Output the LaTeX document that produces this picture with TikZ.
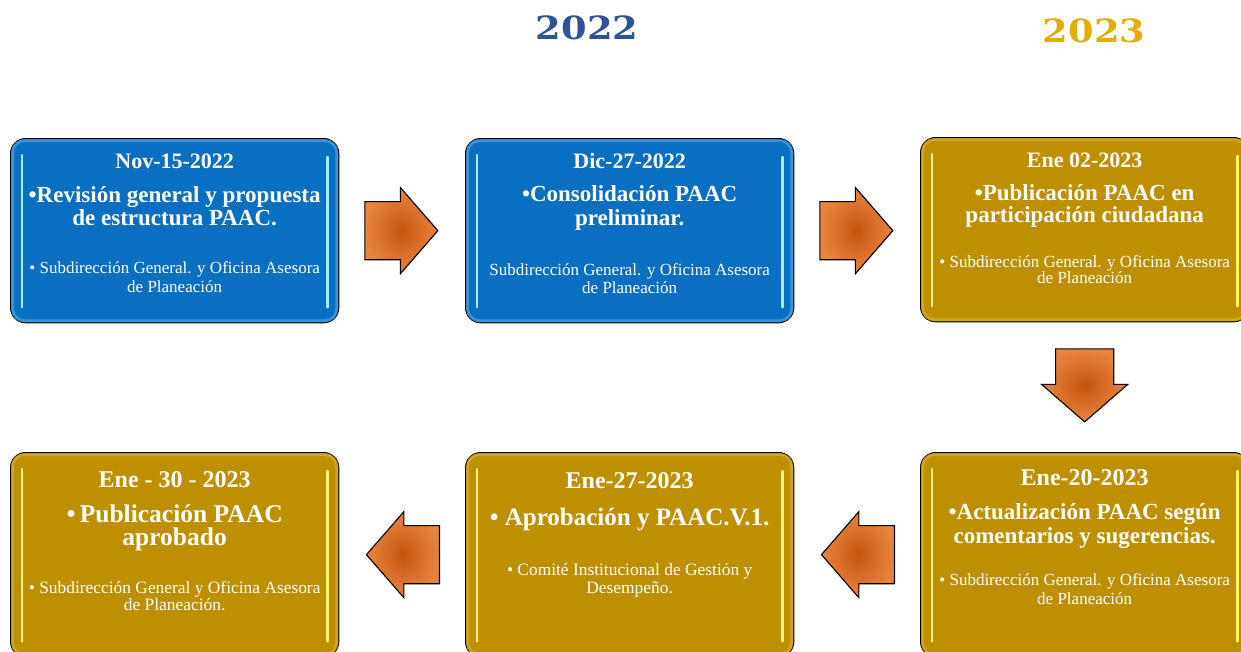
\documentclass[tikz,border=0pt]{standalone}
\usepackage{fontspec}
\setmainfont{Liberation Serif}
\newfontfamily\yearfont{DejaVu Serif}
\usetikzlibrary{shapes.arrows,calc}

\definecolor{boxblue}{HTML}{0A6FC0}
\definecolor{boxgold}{HTML}{BE8F00}
\definecolor{edgeblue}{HTML}{4FA3E6}
\definecolor{edgegold}{HTML}{D8B030}
\definecolor{shineblue}{HTML}{A8ECFF}
\definecolor{shinegold}{HTML}{FFF380}
\definecolor{yearblue}{HTML}{2F5496}
\definecolor{yeargold}{HTML}{E2AE00}
\definecolor{arroworange}{HTML}{C4560F}
\definecolor{arrowlight}{HTML}{E88440}

\tikzset{
  stagebox/.style={draw=black, line width=1.3pt, rounded corners=15pt,
    minimum width=328pt, anchor=north west, inner sep=0pt},
  bluebox/.style={stagebox, fill=boxblue, minimum height=184pt},
  goldbox/.style={stagebox, fill=boxgold, minimum height=204pt},
  edgeglow/.style={line width=3pt, draw=#1, draw opacity=0.7, rounded corners=12pt},
  shine/.style={line width=2.5pt, line cap=round, draw=#1},
  flowarrow/.style={single arrow, draw=black, line width=1.1pt, anchor=tail,
    shading=radial, inner color=arroworange, outer color=arrowlight,
    minimum height=73pt, single arrow head extend=14pt,
    single arrow tip angle=98, inner xsep=0pt, inner ysep=28.5pt},
  yeartext/.style={font=\yearfont\bfseries\fontsize{32}{32}\selectfont, xscale=1.15},
  datetext/.style={text=white, anchor=base, inner sep=0pt, font=\bfseries\fontsize{#1}{#1}\selectfont},
  headtext/.style={text=white, anchor=base, inner sep=0pt, font=\bfseries\fontsize{#1}{#1}\selectfont},
  notetext/.style={text=white, anchor=base, inner sep=0pt, font=\fontsize{#1}{#1}\selectfont},
}

\begin{document}
\begin{tikzpicture}[x=1pt,y=-1pt]
  \useasboundingbox[fill=white] (0,0) rectangle (1241,651);

  % years
  \node[yeartext, text=yearblue] (y2022) at (587,28) {2022};
  \node[yeartext, text=yeargold] (y2023) at (1094,31) {2023};

  % stage boxes
  \node[bluebox] (b1) at (10,138) {};
  \node[bluebox] (b2) at (465,138) {};
  \node[bluebox, fill=boxgold] (b3) at (920,137) {};
  \node[goldbox] (b4) at (920,452) {};
  \node[goldbox] (b5) at (465,452) {};
  \node[goldbox] (b6) at (10,452) {};

  % glow and shine
  \foreach \b/\e/\s in {b1/edgeblue/shineblue, b2/edgeblue/shineblue,
      b3/edgegold/shinegold, b4/edgegold/shinegold, b5/edgegold/shinegold, b6/edgegold/shinegold}{
    \draw[edgeglow=\e] ([shift={(2.5pt,-2.5pt)}]\b.north west) rectangle ([shift={(-2.5pt,2.5pt)}]\b.south east);
    \draw[shine=\s] ([shift={(12pt,-17pt)}]\b.north west) -- ([shift={(12pt,16pt)}]\b.south west);
    \draw[shine=\s] ([shift={(-12pt,-19pt)}]\b.north east) -- ([shift={(-12pt,16pt)}]\b.south east);
  }

  % texts
  \node[datetext=22] (t1) at ([yshift=-30pt]b1.north) {Nov-15-2022};
  \node[headtext=23] (h1a) at ([yshift=-64pt]b1.north) {\textbullet Revisión general y propuesta};
  \node[headtext=23] (h1b) at ([yshift=-87pt]b1.north) {de estructura PAAC.};
  \node[notetext=17] (n1a) at ([yshift=-135pt]b1.north) {\textbullet{} Subdirección General. y Oficina Asesora};
  \node[notetext=17] (n1b) at ([yshift=-154pt]b1.north) {de Planeación};

  \node[datetext=22] (t2) at ([yshift=-30pt]b2.north) {Dic-27-2022};
  \node[headtext=23] (h2a) at ([yshift=-63pt]b2.north) {\textbullet Consolidación PAAC};
  \node[headtext=23] (h2b) at ([yshift=-87pt]b2.north) {preliminar.};
  \node[notetext=17] (n2a) at ([yshift=-137pt]b2.north) {Subdirección General. y Oficina Asesora};
  \node[notetext=17] (n2b) at ([yshift=-155pt]b2.north) {de Planeación};

  \node[datetext=22] (t3) at ([yshift=-30pt]b3.north) {Ene 02-2023};
  \node[headtext=23] (h3a) at ([yshift=-63pt]b3.north) {\textbullet Publicación PAAC en};
  \node[headtext=23] (h3b) at ([yshift=-85pt]b3.north) {participación ciudadana};
  \node[notetext=17] (n3a) at ([yshift=-130pt]b3.north) {\textbullet{} Subdirección General. y Oficina Asesora};
  \node[notetext=17] (n3b) at ([yshift=-146pt]b3.north) {de Planeación};

  \node[datetext=24] (t4) at ([yshift=-33pt]b4.north) {Ene-20-2023};
  \node[headtext=23] (h4a) at ([yshift=-67pt]b4.north) {\textbullet Actualización PAAC según};
  \node[headtext=23] (h4b) at ([yshift=-91pt]b4.north) {comentarios y sugerencias.};
  \node[notetext=17] (n4a) at ([yshift=-133pt]b4.north) {\textbullet{} Subdirección General. y Oficina Asesora};
  \node[notetext=17] (n4b) at ([yshift=-152pt]b4.north) {de Planeación};

  \node[datetext=24] (t5) at ([yshift=-36pt]b5.north) {Ene-27-2023};
  \node[headtext=25] (h5a) at ([yshift=-73pt]b5.north) {\textbullet{} Aprobación y PAAC.V.1.};
  \node[notetext=17.4] (n5a) at ([yshift=-123pt]b5.north) {\textbullet{} Comité Institucional de Gestión y};
  \node[notetext=17.4] (n5b) at ([yshift=-141pt]b5.north) {Desempeño.};

  \node[datetext=24] (t6) at ([yshift=-35pt]b6.north) {Ene - 30 - 2023};
  \node[headtext=25.5] (h6a) at ([yshift=-70pt]b6.north) {\textbullet\,Publicación PAAC};
  \node[headtext=25.5] (h6b) at ([yshift=-93pt]b6.north) {aprobado};
  \node[notetext=17.4] (n6a) at ([yshift=-141pt]b6.north) {\textbullet{} Subdirección General y Oficina Asesora};
  \node[notetext=17.4] (n6b) at ([yshift=-158pt]b6.north) {de Planeación.};

  % flow arrows
  \node[flowarrow] (a1) at ([xshift=25pt]b1.east) {};
  \node[flowarrow] (a2) at ([xshift=25pt]b2.east) {};
  \node[flowarrow, rotate=-90] (a3) at ([yshift=-26pt]b3.south) {};
  \node[flowarrow, rotate=180] (a4) at ([xshift=-25pt]b4.west) {};
  \node[flowarrow, rotate=180] (a5) at ([xshift=-25pt]b5.west) {};
\end{tikzpicture}
\end{document}
